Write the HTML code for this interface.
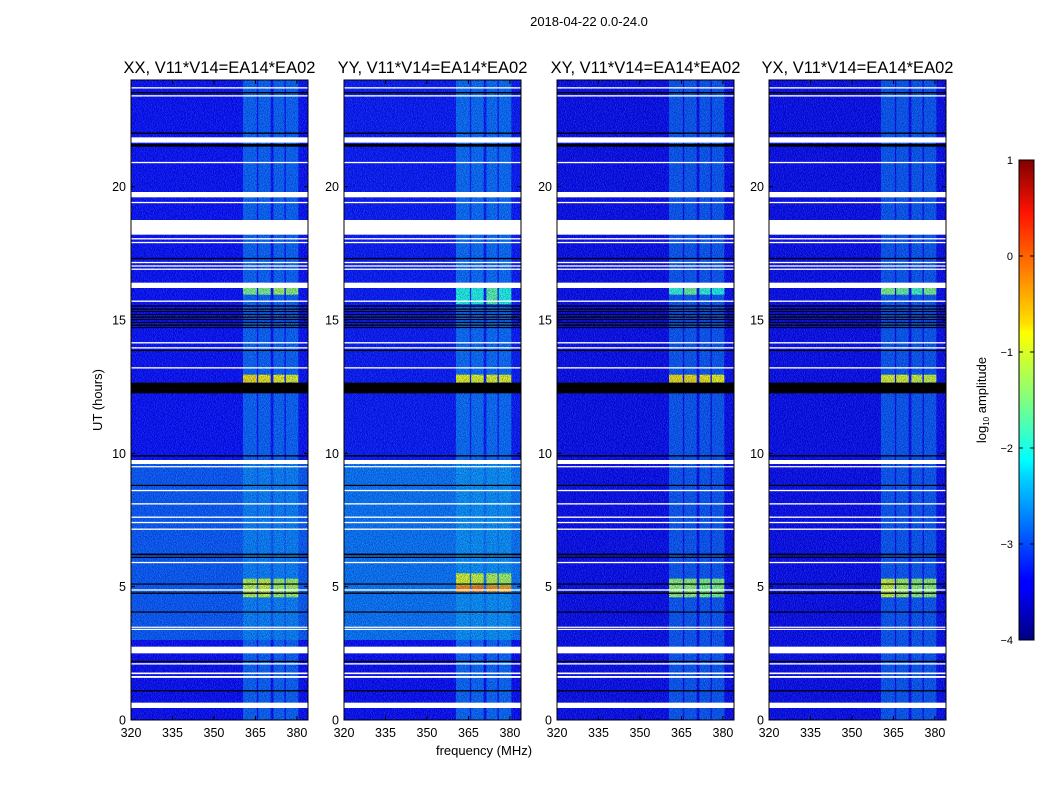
<!DOCTYPE html>
<html><head><meta charset="utf-8">
<style>
body{margin:0;background:#fff;}
svg text{font-family:"Liberation Sans",sans-serif;fill:#000;}
</style></head>
<body>
<svg id="fig" width="1050" height="800" xmlns="http://www.w3.org/2000/svg">
<defs>
<filter id="noise" x="0" y="0" width="100%" height="100%">
<feTurbulence type="fractalNoise" baseFrequency="1.2 0.9" numOctaves="2" seed="3"/>
<feColorMatrix type="matrix" values="0 0 0 0 0  0 0 0 0 0  0 0 0 0 0.1  0 0 0 2.2 -0.8"/>
</filter>
<filter id="noise2" x="0" y="0" width="100%" height="100%">
<feTurbulence type="fractalNoise" baseFrequency="1.1 1.0" numOctaves="2" seed="7"/>
<feColorMatrix type="matrix" values="0 0 0 0 0.3  0 0 0 0 0.8  0 0 0 0 1  0 0 0 2.4 -1.0"/>
</filter>
<linearGradient id="jet" x1="0" y1="1" x2="0" y2="0">
<stop offset="0" stop-color="#000080"/><stop offset="0.11" stop-color="#0000ff"/>
<stop offset="0.125" stop-color="#0000ff"/><stop offset="0.34" stop-color="#00d4ff"/>
<stop offset="0.375" stop-color="#00ffff"/><stop offset="0.5" stop-color="#80ff80"/>
<stop offset="0.64" stop-color="#ffff00"/><stop offset="0.66" stop-color="#ffe000"/>
<stop offset="0.89" stop-color="#ff1300"/><stop offset="1" stop-color="#800000"/>
</linearGradient>
</defs>
<text x="589" y="26" font-size="13" text-anchor="middle">2018-04-22 0.0-24.0</text>
<text x="484" y="755" font-size="13" text-anchor="middle">frequency (MHz)</text>
<text transform="translate(102,400) rotate(-90)" font-size="13" text-anchor="middle">UT (hours)</text>
</svg>
<script>
// ---- data (hours / MHz / log10 amplitude) ----
const panelTitles = ["XX, V11*V14=EA14*EA02","YY, V11*V14=EA14*EA02","XY, V11*V14=EA14*EA02","YX, V11*V14=EA14*EA02"];
const panelLeft = [131, 344, 557, 769];
const xTicks = [320, 335, 350, 365, 380];
const yTicks = [0, 5, 10, 15, 20];
const cbarTicks = [1, 0, -1, -2, -3, -4];
const stripes = [[360.5,365.5],[366,370.5],[371.5,375.5],[376,380.5]];
// background segments [t0,t1,value] per panel
const bgXX = [[0,3.0,-3.4],[3.0,9.75,-2.95],[9.75,24,-3.35]];
const bgYY = [[0,3.0,-3.4],[3.0,9.75,-2.8],[9.75,24,-3.3]];
const bgXY = [[0,24,-3.45]];
const bgYX = [[0,24,-3.45]];
const stripeLevel = [-2.6, -2.55, -2.7, -2.7];
// bright blocks [t0,t1,stripe values...]
const blocksXX = [[4.6,5.3,-1.2,-1.1,-1.3,-1.3],[12.65,12.95,-0.75,-0.8,-0.9,-1.0],[15.95,16.2,-1.5,-1.5,-1.3,-1.4]];
const blocksYY = [[4.8,5.05,-0.3,-0.2,-0.35,-0.45],[5.05,5.5,-1.0,-1.1,-1.2,-1.3],[12.65,12.95,-0.9,-0.95,-0.95,-0.95],[15.6,16.2,-2.0,-2.0,-1.7,-2.0]];
const blocksXY = [[4.6,5.3,-1.4,-1.4,-1.5,-1.5],[12.65,12.95,-0.75,-0.75,-0.8,-0.9],[15.95,16.2,-1.9,-1.6,-1.9,-2.0]];
const blocksYX = [[4.6,5.3,-1.1,-1.3,-1.4,-1.4],[12.65,12.95,-1.0,-1.0,-1.1,-1.1],[15.95,16.2,-1.5,-1.6,-1.8,-1.5]];
// flagged (white) and dead (black) rows [t0,t1]
const whiteRows = [[0.45,0.65],[1.58,1.65],[1.72,1.78],[2.08,2.13],[2.5,2.75],[3.38,3.42],[3.46,3.5],[4.85,4.9],[5.88,5.93],[7.13,7.18],[7.38,7.43],[7.58,7.63],[8.08,8.13],[8.58,8.63],[9.48,9.52],[9.6,9.75],[13.18,13.23],[13.93,13.98],[14.12,14.17],[15.68,15.73],[16.2,16.4],[16.88,16.93],[17.0,17.05],[17.13,17.18],[17.88,17.93],[18.02,18.07],[18.2,18.75],[19.38,19.43],[19.6,19.8],[20.88,20.93],[21.65,21.85],[23.38,23.43],[23.68,23.73]];
const blackRows = [[1.07,1.12],[2.18,2.22],[4.03,4.07],[4.73,4.78],[5.08,5.12],[6.08,6.12],[6.18,6.24],[8.78,8.82],[9.88,9.93],[12.25,12.65],[13.85,13.88],[14.7,14.74],[14.8,14.83],[14.9,14.93],[15.0,15.04],[15.1,15.13],[15.2,15.23],[15.3,15.34],[15.4,15.43],[15.5,15.55],[17.28,17.33],[21.5,21.6],[21.98,22.03],[23.5,23.55]];
const panelBg = [bgXX,bgYY,bgXY,bgYX];
const panelBlocks = [blocksXX,blocksYY,blocksXY,blocksYX];

// ---- scales ----
const Y0=720, Y1=80, TMAX=24, W=177, FMIN=320, FMAX=384;
const yS = t => Y0 - (t/TMAX)*(Y0-Y1);
const xS = (f,L) => L + (f-FMIN)/(FMAX-FMIN)*W;
function jet(v){
  const x=Math.max(0,Math.min(1,(v+4)/5));
  const c=q=>Math.round(255*Math.max(0,Math.min(1,q)));
  const r=c(Math.min(4*x-1.5,-4*x+4.5)), g=c(Math.min(4*x-0.5,-4*x+3.5)), b=c(Math.min(4*x+0.5,-4*x+2.5));
  return `rgb(${r},${g},${b})`;
}
const NS="http://www.w3.org/2000/svg";
const svg=document.getElementById('fig');
function mk(tag,attrs,parent){const e=document.createElementNS(NS,tag);for(const k in attrs)e.setAttribute(k,attrs[k]);(parent||svg).appendChild(e);return e;}

panelTitles.forEach((title,p)=>{
  const L=panelLeft[p];
  const g=mk('g',{});
  
  
  const cp=mk('clipPath',{id:'cp'+p},g);
  mk('rect',{x:L,y:Y1,width:W,height:Y0-Y1},cp);
  const inner=mk('g',{'clip-path':`url(#cp${p})`},g);
  panelBg[p].forEach(s=>{
    const r=mk('rect',{x:L,y:yS(s[1]),width:W,height:yS(s[0])-yS(s[1]),fill:jet(s[2])},inner);
    
    
  });
  stripes.forEach(s=>{
    const r=mk('rect',{x:xS(s[0],L),y:Y1,width:xS(s[1],L)-xS(s[0],L),height:Y0-Y1,fill:jet(stripeLevel[p]),opacity:0.6},inner);
    
    
  });
  panelBlocks[p].forEach(b=>{
    stripes.forEach((s,i)=>{
      const r=mk('rect',{x:xS(s[0],L),y:yS(b[1]),width:xS(s[1],L)-xS(s[0],L),height:yS(b[0])-yS(b[1]),fill:jet(b[2+i])},inner);
      
      
    });
  });
  mk('rect',{x:L,y:Y1,width:W,height:Y0-Y1,filter:'url(#noise)',opacity:0.55},inner);
  mk('rect',{x:L,y:Y1,width:W,height:Y0-Y1,filter:'url(#noise2)',opacity:0.35},inner);
  whiteRows.forEach(w=>{
    const r=mk('rect',{x:L,y:yS(w[1]),width:W,height:Math.max(1.2,yS(w[0])-yS(w[1])),fill:'#fff'},inner);
    
    
  });
  blackRows.forEach(w=>{
    const r=mk('rect',{x:L,y:yS(w[1]),width:W,height:Math.max(1.2,yS(w[0])-yS(w[1])),fill:'#000'},inner);
    
    
  });
  mk('rect',{x:L,y:Y1,width:W,height:Y0-Y1,fill:'none',stroke:'#000','stroke-width':1},g);
  const t=mk('text',{x:L+W/2,y:73,'font-size':16.5,'text-anchor':'middle'},g);
  t.textContent=title;
  
  
  xTicks.forEach(f=>{
    const x=xS(f,L);
    mk('line',{x1:x,x2:x,y1:Y0,y2:Y0-4,stroke:'#000'},g);
    mk('line',{x1:x,x2:x,y1:Y1,y2:Y1+4,stroke:'#000'},g);
    const tx=mk('text',{x:x,y:Y0+17,'font-size':12.5,'text-anchor':'middle'},g);
    tx.textContent=f;
    
    
  });
  yTicks.forEach(v=>{
    const y=yS(v);
    mk('line',{x1:L,x2:L+4,y1:y,y2:y,stroke:'#000'},g);
    mk('line',{x1:L+W,x2:L+W-4,y1:y,y2:y,stroke:'#000'},g);
    const ty=mk('text',{x:L-5,y:y+4.5,'font-size':12.5,'text-anchor':'end'},g);
    ty.textContent=v;
    
    
  });
});

// colorbar
const cb=mk('g',{});


mk('rect',{x:1019,y:160,width:15,height:480,fill:'url(#jet)',stroke:'#000','stroke-width':1},cb);
const cbY=v=>640-(v+4)/5*480;
cbarTicks.forEach(v=>{
  mk('line',{x1:1019,x2:1023,y1:cbY(v),y2:cbY(v),stroke:'#000'},cb);
  mk('line',{x1:1030,x2:1034,y1:cbY(v),y2:cbY(v),stroke:'#000'},cb);
  const t=mk('text',{x:1013,y:cbY(v)+4,'font-size':11,'text-anchor':'end'},cb);
  t.textContent=v<0?'\u2212'+(-v):String(v);
  
  
});
const cl=mk('text',{transform:'translate(986,400) rotate(-90)','font-size':13,'text-anchor':'middle'},cb);
cl.innerHTML='log<tspan font-size="8" dy="3">10</tspan><tspan dy="-3"> amplitude</tspan>';


</script>
</body></html>
